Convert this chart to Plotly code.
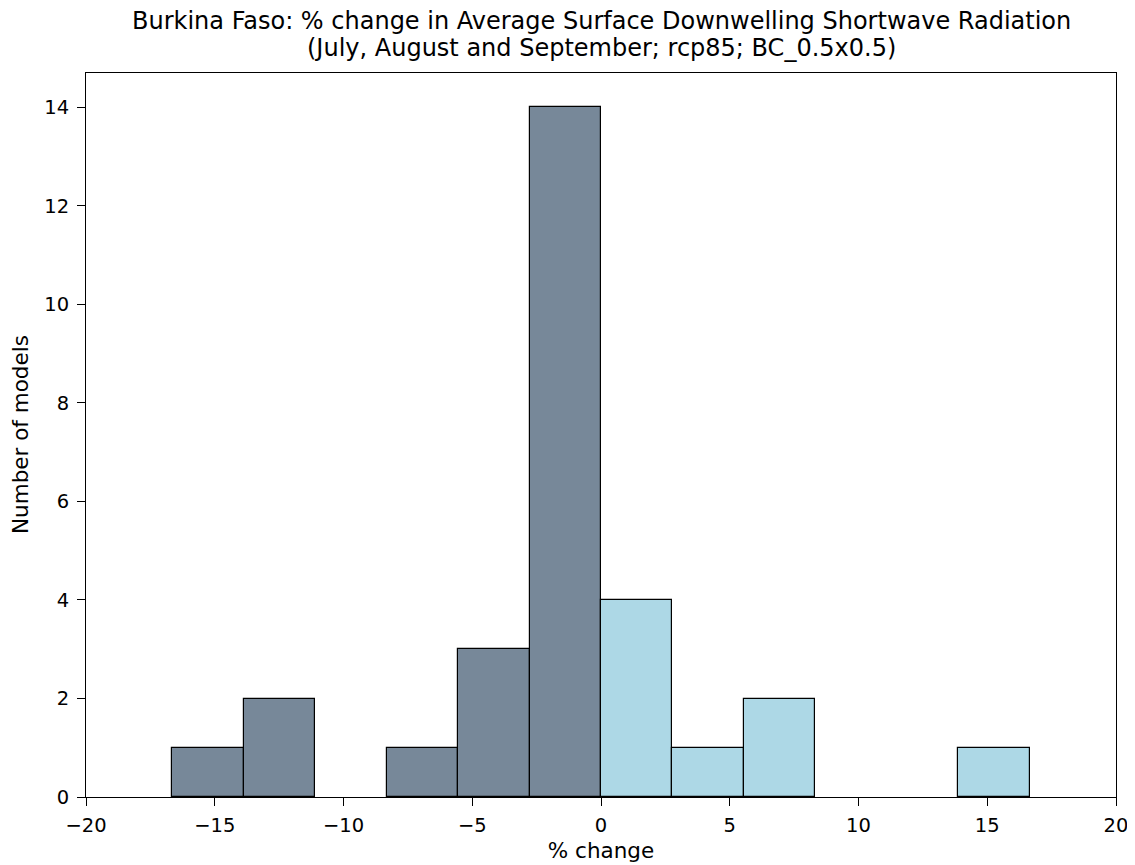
import plotly.graph_objects as go

bin_edges = [-16.65, -13.875, -11.1, -8.325, -5.55, -2.775, 0.0, 2.775, 5.55, 8.325, 11.1, 13.875, 16.65]
counts = [1, 2, 0, 1, 3, 14, 4, 1, 2, 0, 0, 1]
neg_color = "#778899"
pos_color = "#ADD8E6"
title_lines = [
    "Burkina Faso: % change in Average Surface Downwelling Shortwave Radiation",
    "(July, August and September; rcp85; BC_0.5x0.5)",
]
x_label = "% change"
y_label = "Number of models"

centers = [(bin_edges[i] + bin_edges[i + 1]) / 2 for i in range(len(counts))]
widths = [bin_edges[i + 1] - bin_edges[i] for i in range(len(counts))]
colors = [neg_color if c < 0 else pos_color for c in centers]
line_widths = [1.2 if n > 0 else 0 for n in counts]

fig = go.Figure()
fig.add_trace(go.Bar(
    x=centers, y=counts, width=widths,
    marker=dict(color=colors, line=dict(color="black", width=line_widths)),
    showlegend=False,
))

font = "DejaVu Sans"
W, H = 1127, 857
ml, mr, mt, mb = 78, 19, 65, 68
plot_w = W - ml - mr
plot_h = H - mt - mb
fig.update_layout(
    width=W, height=H,
    margin=dict(l=ml, r=mr, t=mt, b=mb),
    plot_bgcolor="white", paper_bgcolor="white",
    font=dict(family=font, size=20, color="black"),
    bargap=0,
)
# page offset of 8 px (body margin): plot top is at page y 73
for txt, ypx in zip(title_lines, [21, 48]):
    fig.add_annotation(
        text=txt, xref="paper", yref="paper", x=0.5, y=1 + (73 - ypx) / plot_h,
        xanchor="center", yanchor="middle", showarrow=False,
        font=dict(family=font, size=24, color="black"),
    )
fig.add_annotation(
    text=y_label, xref="paper", yref="paper", x=(20 - 86) / plot_w, y=0.5,
    xanchor="center", yanchor="middle", showarrow=False, textangle=-90,
    font=dict(family=font, size=21.5, color="black"),
)
fig.update_xaxes(
    range=[-20, 20], tickmode="array", tickvals=[-20, -15, -10, -5, 0, 5, 10, 15, 20],
    ticks="outside", ticklen=8, tickcolor="black", showline=True, linecolor="black",
    linewidth=1, mirror=True, showgrid=False, zeroline=False, automargin=False,
    tickfont=dict(size=19.5), ticklabelstandoff=3,
    title=dict(text=x_label, font=dict(size=21.5), standoff=6),
)
fig.update_yaxes(
    range=[0, 14.7], tickmode="array", tickvals=[0, 2, 4, 6, 8, 10, 12, 14],
    ticks="outside", ticklen=8, tickcolor="black", showline=True, linecolor="black",
    linewidth=1, mirror=True, showgrid=False, zeroline=False, automargin=False,
    tickfont=dict(size=19.5), ticklabelstandoff=4,
)

fig.write_html("out.html")
